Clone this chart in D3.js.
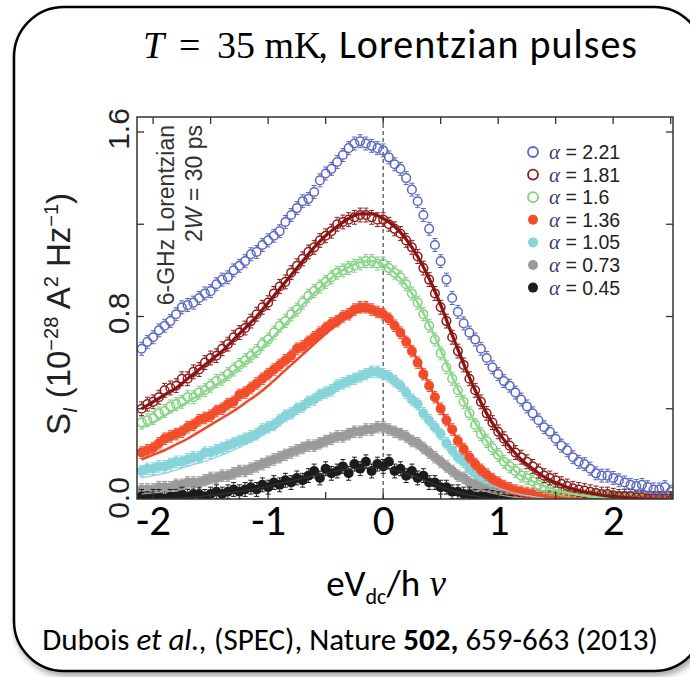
<!DOCTYPE html>
<html>
<head>
<meta charset="utf-8">
<script src="https://d3js.org/d3.v7.min.js"></script>
<style>
body { margin: 0; background: #fff; }
svg { display: block; }
</style>
</head>
<body>
<div id="chart"></div>
<script>
// data (S_I in 1e-28 A^2/Hz vs eVdc/h nu)

var alphaLabels = ["2.21", "1.81", "1.6", "1.36", "1.05", "0.73", "0.45"];

var xData = [-2.1,-2.05,-2,-1.95,-1.9,-1.85,-1.8,-1.75,-1.7,-1.65,
    -1.6,-1.55,-1.5,-1.45,-1.4,-1.35,-1.3,-1.25,-1.2,-1.15,
    -1.1,-1.05,-1,-0.95,-0.9,-0.85,-0.8,-0.75,-0.7,-0.65,
    -0.6,-0.55,-0.5,-0.45,-0.4,-0.35,-0.3,-0.25,-0.2,-0.15,
    -0.1,-0.05,0,0.05,0.1,0.15,0.2,0.25,0.3,0.35,
    0.4,0.45,0.5,0.55,0.6,0.65,0.7,0.75,0.8,0.85,
    0.9,0.95,1,1.05,1.1,1.15,1.2,1.25,1.3,1.35,
    1.4,1.45,1.5,1.55,1.6,1.65,1.7,1.75,1.8,1.85,
    1.9,1.95,2,2.05,2.1,2.15,2.2,2.25,2.3,2.35,
    2.4,2.45,2.5];

var s221 = [0.66,0.69,0.71,0.74,0.76,0.78,0.81,0.84,0.85,0.86,
    0.88,0.90,0.91,0.94,0.96,0.97,1.00,1.02,1.04,1.07,
    1.08,1.11,1.13,1.15,1.17,1.21,1.24,1.27,1.30,1.31,
    1.34,1.39,1.42,1.44,1.47,1.50,1.53,1.55,1.56,1.55,
    1.54,1.53,1.52,1.49,1.46,1.44,1.40,1.35,1.30,1.24,
    1.18,1.11,1.04,0.96,0.88,0.82,0.77,0.73,0.70,0.66,
    0.62,0.58,0.55,0.52,0.50,0.47,0.44,0.41,0.38,0.35,
    0.32,0.30,0.27,0.24,0.22,0.19,0.17,0.16,0.14,0.12,
    0.11,0.11,0.10,0.09,0.08,0.07,0.065,0.07,0.06,0.05,
    0.05,0.06,0.04];

var s181 = [0.40,0.42,0.43,0.45,0.48,0.49,0.50,0.53,0.53,0.56,
    0.57,0.60,0.62,0.63,0.66,0.68,0.71,0.73,0.75,0.78,
    0.81,0.84,0.86,0.90,0.93,0.95,0.99,1.02,1.05,1.08,
    1.10,1.13,1.15,1.17,1.20,1.21,1.22,1.23,1.24,1.24,
    1.23,1.22,1.22,1.20,1.18,1.16,1.13,1.10,1.06,1.01,
    0.96,0.90,0.84,0.78,0.71,0.65,0.59,0.53,0.48,0.43,
    0.38,0.34,0.30,0.27,0.24,0.21,0.19,0.17,0.15,0.13,
    0.11,0.10,0.09,0.075,0.065,0.055,0.05,0.045,0.04,0.035,
    0.03,0.03,0.025,0.02,0.02,0.02,0.015,0.015,0.01,0.01,
    0.01,0.01,0.01];

var s160 = [0.34,0.35,0.36,0.38,0.39,0.41,0.42,0.43,0.45,0.45,
    0.47,0.48,0.50,0.52,0.53,0.55,0.57,0.59,0.61,0.63,
    0.65,0.68,0.70,0.73,0.76,0.78,0.81,0.83,0.86,0.89,
    0.91,0.93,0.95,0.97,0.99,1.00,1.01,1.02,1.03,1.04,
    1.04,1.03,1.03,1.01,0.99,0.97,0.94,0.90,0.86,0.81,
    0.76,0.70,0.64,0.58,0.53,0.48,0.43,0.38,0.33,0.29,
    0.26,0.23,0.20,0.17,0.15,0.13,0.11,0.10,0.085,0.07,
    0.06,0.05,0.045,0.04,0.035,0.03,0.025,0.02,0.02,0.02,
    0.015,0.015,0.01,0.01,0.01,0.01,0.01,0.01,0.01,0.01,
    0.01,0.01,0.01];

var s136 = [0.21,0.22,0.23,0.25,0.27,0.28,0.29,0.30,0.32,0.33,
    0.35,0.36,0.37,0.39,0.40,0.42,0.43,0.46,0.47,0.49,
    0.51,0.53,0.55,0.57,0.59,0.61,0.63,0.66,0.67,0.69,
    0.71,0.73,0.75,0.77,0.78,0.80,0.81,0.83,0.84,0.84,
    0.83,0.82,0.81,0.79,0.76,0.73,0.69,0.65,0.60,0.55,
    0.50,0.45,0.40,0.35,0.31,0.26,0.225,0.19,0.16,0.135,
    0.115,0.095,0.08,0.065,0.055,0.045,0.04,0.035,0.03,0.025,
    0.02,0.02,0.02,0.015,0.015,0.015,0.01,0.01,0.01,0.01,
    0.01,0.01,0.01,0.01,0.01,0.01,0.01,0.01,0.01,0.01,
    0.01,0.01,0.01];

var s105 = [0.13,0.14,0.14,0.15,0.15,0.16,0.17,0.17,0.18,0.19,
    0.19,0.21,0.21,0.22,0.23,0.24,0.25,0.26,0.27,0.28,
    0.29,0.31,0.32,0.33,0.35,0.37,0.38,0.40,0.41,0.43,
    0.44,0.46,0.47,0.48,0.50,0.51,0.52,0.53,0.54,0.55,
    0.56,0.56,0.55,0.54,0.52,0.50,0.47,0.44,0.42,0.38,
    0.35,0.32,0.29,0.25,0.22,0.19,0.17,0.14,0.12,0.10,
    0.085,0.07,0.055,0.045,0.04,0.03,0.025,0.02,0.02,0.015,
    0.015,0.01,0.01,0.01,0.01,0.01,0.01,0.01,0.01,0.01,
    0.01,0.01,0.01,0.01,0.01,0.01,0.01,0.01,0.01,0.01,
    0.01,0.01,0.01];

var s073 = [0.05,0.05,0.05,0.06,0.06,0.06,0.07,0.07,0.08,0.08,
    0.08,0.09,0.10,0.10,0.11,0.11,0.12,0.13,0.13,0.14,
    0.15,0.16,0.17,0.18,0.19,0.20,0.21,0.22,0.23,0.24,
    0.24,0.25,0.26,0.27,0.28,0.28,0.29,0.30,0.30,0.31,
    0.31,0.32,0.32,0.31,0.30,0.29,0.28,0.26,0.25,0.23,
    0.21,0.19,0.17,0.15,0.13,0.11,0.10,0.08,0.07,0.055,
    0.045,0.04,0.03,0.025,0.02,0.015,0.015,0.01,0.01,0.01,
    0.01,0.01,0.01,0.01,0.01,0.01,0.01,0.01,0.01,0.01,
    0.01,0.01,0.01,0.01,0.01,0.01,0.01,0.01,0.01,0.01,
    0.01,0.01,0.01];

var s045 = [0.02,0.01,0.02,0.02,0.01,0.02,0.02,0.03,0.02,0.03,
    0.03,0.02,0.03,0.04,0.03,0.04,0.05,0.04,0.05,0.06,
    0.05,0.07,0.06,0.08,0.07,0.09,0.08,0.10,0.09,0.11,
    0.13,0.10,0.14,0.12,0.13,0.15,0.12,0.16,0.14,0.17,
    0.13,0.16,0.15,0.17,0.13,0.14,0.11,0.13,0.10,0.11,
    0.08,0.08,0.06,0.06,0.04,0.04,0.03,0.03,0.02,0.02,
    0.02,0.015,0.01,0.01,0.01,0.01,0.01,0.01,0.01,0.01,
    0.01,0.01,0.01,0.01,0.01,0.01,0.01,0.01,0.01,0.01,
    0.01,0.01,0.01,0.01,0.01,0.01,0.01,0.01,0.01,0.01,
    0.01,0.01,0.01];

// fitted curves (0.1 step)
var xFit = [-2.1,-2,-1.9,-1.8,-1.7,-1.6,-1.5,-1.4,-1.3,-1.2,
    -1.1,-1,-0.9,-0.8,-0.7,-0.6,-0.5,-0.4,-0.3,-0.2,
    -0.1,0,0.1,0.2,0.3,0.4,0.5,0.6,0.7,0.8,
    0.9,1,1.1,1.2,1.3,1.4,1.5,1.6,1.7,1.8,
    1.9,2,2.1,2.2,2.3,2.4,2.5];

var fit181 = [0.40,0.43,0.46,0.49,0.53,0.57,0.61,0.65,0.70,0.75,
    0.80,0.86,0.92,0.98,1.04,1.10,1.15,1.19,1.225,1.245,
    1.245,1.225,1.19,1.135,1.06,0.965,0.85,0.72,0.595,0.48,
    0.38,0.30,0.235,0.18,0.14,0.105,0.08,0.06,0.045,0.035,
    0.025,0.02,0.015,0.01,0.008,0.006,0.005];

var fit160 = [0.32,0.34,0.37,0.40,0.43,0.46,0.49,0.52,0.56,0.60,
    0.645,0.69,0.74,0.795,0.85,0.90,0.945,0.985,1.015,1.035,
    1.04,1.025,0.99,0.935,0.86,0.765,0.655,0.54,0.435,0.34,
    0.26,0.20,0.15,0.11,0.085,0.065,0.048,0.036,0.027,0.02,
    0.015,0.011,0.008,0.006,0.005,0.004,0.003];

var fit136 = [0.18,0.20,0.22,0.245,0.27,0.30,0.33,0.36,0.39,0.425,
    0.46,0.50,0.545,0.59,0.635,0.68,0.725,0.765,0.80,0.822,
    0.825,0.81,0.77,0.70,0.61,0.505,0.40,0.305,0.225,0.16,
    0.115,0.08,0.057,0.04,0.029,0.021,0.015,0.011,0.008,0.006,
    0.005,0.004,0.003,0.003,0.002,0.002,0.002];

var fit105 = [0.10,0.11,0.12,0.135,0.15,0.165,0.18,0.20,0.22,0.245,
    0.27,0.30,0.33,0.365,0.40,0.435,0.47,0.50,0.525,0.545,
    0.55,0.54,0.51,0.465,0.405,0.34,0.275,0.21,0.16,0.115,
    0.08,0.057,0.04,0.028,0.02,0.014,0.01,0.007,0.005,0.004,
    0.003,0.003,0.002,0.002,0.002,0.001,0.001];

var fit073 = [0.03,0.035,0.04,0.045,0.055,0.065,0.075,0.09,0.10,0.12,
    0.135,0.155,0.175,0.195,0.215,0.235,0.255,0.275,0.29,0.305,
    0.31,0.305,0.29,0.265,0.23,0.19,0.15,0.115,0.085,0.06,
    0.04,0.028,0.019,0.013,0.009,0.006,0.004,0.003,0.002,0.002,
    0.001,0.001,0.001,0.001,0.001,0.001,0.001];

var fit045 = [0.005,0.007,0.009,0.012,0.015,0.019,0.024,0.03,0.037,0.045,
    0.054,0.064,0.075,0.087,0.099,0.11,0.12,0.13,0.138,0.143,
    0.145,0.142,0.134,0.12,0.102,0.082,0.062,0.045,0.031,0.021,
    0.014,0.009,0.006,0.004,0.003,0.002,0.001,0.001,0.001,0.001,
    0.001,0.001,0.001,0.001,0.001,0.001,0.001];

var errHalf = [0.028, 0.03, 0.028, 0.025, 0.025, 0.025, 0.03];

var xTicks = [-2, -1, 0, 1, 2];
var xFrameTicks = [-2, -1.5, -1, -0.5, 0, 0.5, 1, 1.5, 2, 2.5];
var yTicks = [0, 0.8, 1.6];
var yFrameTicks = [0.4, 0.8, 1.2, 1.6];
var yTickLabels = ["0.0", "0.8", "1.6"];

// styles
var colors = ["#5b68c0", "#8c1c1c", "#7fcf7f", "#f24e2c", "#86d4d9", "#9a9a9a", "#1c1c1c"];
var openMarker = [true, true, true, false, false, false, false];
var fitColors = ["#8a1414", "#8ed88e", "#f0482a", "#86d4d9", "#a0a0a0", "#333333"];
var fitWidths = [3.2, 2.5, 2.5, 1.2, 1.2, 1.2];

var svgWidth = 690;
var svgHeight = 677;
var margin = { top: 117, left: 137 };
var width = 536;
var height = 382;
var radius = 5;

var seriesData = [s221, s181, s160, s136, s105, s073, s045];
var fitData = [fit181, fit160, fit136, fit105, fit073, fit045];

var svg = d3.select("#chart")
    .append("svg")
    .attr("width", svgWidth)
    .attr("height", svgHeight);

var defs = svg.append("defs");
var shadow = defs.append("filter")
    .attr("id", "shadow")
    .attr("x", "-5%").attr("y", "-5%")
    .attr("width", "115%").attr("height", "115%");
shadow.append("feDropShadow")
    .attr("dx", 2).attr("dy", 4)
    .attr("stdDeviation", 3)
    .attr("flood-color", "#000")
    .attr("flood-opacity", 0.35);

defs.append("clipPath").attr("id", "plotclip")
    .append("rect")
    .attr("x", 0).attr("y", 0)
    .attr("width", width).attr("height", height);

// rounded slide frame
svg.append("rect")
    .attr("x", 14).attr("y", 7)
    .attr("width", 690).attr("height", 664)
    .attr("rx", 50)
    .attr("fill", "#fff")
    .attr("stroke", "#000")
    .attr("stroke-width", 2.5)
    .attr("filter", "url(#shadow)");

// title
var title = svg.append("text")
    .attr("y", 58)
    .attr("font-size", 38)
    .attr("fill", "#000")
    .attr("font-family", "'Liberation Serif', serif");
title.append("tspan")
    .attr("x", 143)
    .attr("font-style", "italic")
    .text("T");
title.append("tspan")
    .attr("x", 179)
    .text("=");
title.append("tspan")
    .attr("x", 217)
    .text("35 mK");

svg.append("text")
    .attr("x", 318).attr("y", 58)
    .attr("font-family", "Carlito, Lato, sans-serif")
    .attr("font-size", 40)
    .attr("textLength", 319)
    .attr("lengthAdjust", "spacing")
    .attr("fill", "#000")
    .text(", Lorentzian pulses");

// scales
var xScale = d3.scaleLinear()
    .domain([-2.14, 2.52])
    .range([0, width]);

var yScale = d3.scaleLinear()
    .domain([0, 1.665])
    .range([384, 0]);

var chartGroup = svg.append("g")
    .attr("transform", `translate(${margin.left}, ${margin.top})`);

// zero line
chartGroup.append("line")
    .attr("x1", xScale(0)).attr("x2", xScale(0))
    .attr("y1", 0).attr("y2", height)
    .attr("stroke", "#444")
    .attr("stroke-width", 1.2)
    .attr("stroke-dasharray", "4,3");

var plot = chartGroup.append("g").attr("clip-path", "url(#plotclip)");

// points, low curves first so the blue set ends on top
var drawOrder = [4, 5, 6, 3, 2, 1, 0];
drawOrder.forEach(function(k) {
    var pts = xData.map(function(xv, i) { return { x: xv, y: seriesData[k][i] }; });
    var g = plot.append("g");

    // error bars drawn only outside the marker
    g.selectAll(".err")
        .data(pts)
        .enter()
        .append("path")
        .attr("d", function(d) {
            var cx = xScale(d.x);
            var cy = yScale(d.y);
            var y1 = yScale(d.y + errHalf[k]);
            var y2 = yScale(d.y - errHalf[k]);
            return "M" + (cx - 2.5) + "," + y1 + "H" + (cx + 2.5) +
                "M" + cx + "," + y1 + "V" + (cy - radius) +
                "M" + cx + "," + (cy + radius) + "V" + y2 +
                "M" + (cx - 2.5) + "," + y2 + "H" + (cx + 2.5);
        })
        .attr("stroke", colors[k])
        .attr("stroke-width", 1)
        .attr("fill", "none");

    g.selectAll("circle")
        .data(pts)
        .enter()
        .append("circle")
        .attr("cx", function(d) { return xScale(d.x); })
        .attr("cy", function(d) { return yScale(d.y); })
        .attr("r", openMarker[k] ? radius - 0.7 : radius)
        .attr("fill", openMarker[k] ? "none" : colors[k])
        .attr("stroke", colors[k])
        .attr("stroke-width", openMarker[k] ? 1.5 : 0);
});

// fitted lines
var fitLine = d3.line()
    .x(function(d) { return xScale(d[0]); })
    .y(function(d) { return yScale(d[1]); })
    .curve(d3.curveMonotoneX);

[5, 4, 3, 2, 1, 0].forEach(function(j) {
    plot.append("path")
        .datum(xFit.map(function(xv, i) { return [xv, fitData[j][i]]; }))
        .attr("d", fitLine)
        .attr("fill", "none")
        .attr("stroke", fitColors[j])
        .attr("stroke-width", fitWidths[j]);
});

// frame
chartGroup.append("rect")
    .attr("width", width).attr("height", height)
    .attr("fill", "none")
    .attr("stroke", "#333")
    .attr("stroke-width", 1.5);

// inward ticks on all four sides
var tickLen = 7;
var innerTicks = chartGroup.append("g").attr("stroke", "#333").attr("stroke-width", 1.3);
xFrameTicks.forEach(function(t) {
    innerTicks.append("line").attr("x1", xScale(t)).attr("x2", xScale(t)).attr("y1", 0).attr("y2", tickLen);
    innerTicks.append("line").attr("x1", xScale(t)).attr("x2", xScale(t)).attr("y1", height).attr("y2", height - tickLen);
});
yFrameTicks.forEach(function(t) {
    innerTicks.append("line").attr("x1", 0).attr("x2", tickLen).attr("y1", yScale(t)).attr("y2", yScale(t));
    innerTicks.append("line").attr("x1", width).attr("x2", width - tickLen).attr("y1", yScale(t)).attr("y2", yScale(t));
});

// x tick labels
var xAxis = d3.axisBottom(xScale)
    .tickValues(xTicks)
    .tickSize(0)
    .tickPadding(5)
    .tickFormat(function(d) { return String(d); });

var xAxisG = chartGroup.append("g")
    .attr("transform", `translate(0, ${height})`)
    .call(xAxis);
xAxisG.select(".domain").remove();
xAxisG.selectAll("text")
    .attr("font-family", "Carlito, Lato, sans-serif")
    .attr("font-size", 43)
    .attr("fill", "#000");

// y tick labels, rotated
yTicks.forEach(function(t, i) {
    chartGroup.append("text")
        .attr("transform", "translate(-8," + (yScale(t) - 3) + ") rotate(-90)")
        .attr("text-anchor", "middle")
        .attr("font-family", "'Liberation Sans', Arial, sans-serif")
        .attr("font-size", 30)
        .attr("fill", "#222")
        .text(yTickLabels[i]);
});

// y axis title
var yTitle = svg.append("text")
    .attr("transform", "translate(70, 314) rotate(-90)")
    .attr("text-anchor", "middle")
    .attr("font-family", "'Liberation Sans', Arial, sans-serif")
    .attr("font-size", 33)
    .attr("fill", "#222");
yTitle.append("tspan").text("S");
yTitle.append("tspan").attr("font-size", 20).attr("font-style", "italic").attr("dy", 7).text("I");
yTitle.append("tspan").attr("dy", -7).text(" (10");
yTitle.append("tspan").attr("font-size", 20).attr("dy", -12).text("\u221228");
yTitle.append("tspan").attr("dy", 12).text(" A");
yTitle.append("tspan").attr("font-size", 20).attr("dy", -12).text("2");
yTitle.append("tspan").attr("dy", 12).text(" Hz");
yTitle.append("tspan").attr("font-size", 20).attr("dy", -12).text("\u22121");
yTitle.append("tspan").attr("dy", 12).text(")");

// x axis title
var xTitle = svg.append("text")
    .attr("x", 386).attr("y", 596)
    .attr("text-anchor", "middle")
    .attr("font-family", "Carlito, Lato, sans-serif")
    .attr("font-size", 37)
    .attr("fill", "#000");
xTitle.append("tspan").text("eV");
xTitle.append("tspan").attr("font-size", 22).attr("dy", 8).text("dc");
xTitle.append("tspan").attr("dy", -8).text("/h");
xTitle.append("tspan").attr("font-family", "'Liberation Serif', serif").attr("font-style", "italic").text(" \u03bd");

// rotated annotation inside the plot
chartGroup.append("text")
    .attr("transform", "translate(37, 8) rotate(-90)")
    .attr("text-anchor", "end")
    .attr("font-family", "'Liberation Sans', Arial, sans-serif")
    .attr("font-size", 23)
    .attr("fill", "#333")
    .text("6-GHz Lorentzian");
var ann2 = chartGroup.append("text")
    .attr("transform", "translate(65, 8) rotate(-90)")
    .attr("text-anchor", "end")
    .attr("font-family", "'Liberation Sans', Arial, sans-serif")
    .attr("font-size", 23)
    .attr("fill", "#333");
ann2.append("tspan").text("2");
ann2.append("tspan").attr("font-style", "italic").text("W");
ann2.append("tspan").text(" = 30 ps");

// legend
var legend = svg.append("g").attr("transform", "translate(533, 152)");
alphaLabels.forEach(function(lab, i) {
    var row = legend.append("g").attr("transform", "translate(0," + (i * 22.6) + ")");
    row.append("circle")
        .attr("r", 5)
        .attr("fill", openMarker[i] ? "#fff" : colors[i])
        .attr("stroke", colors[i])
        .attr("stroke-width", openMarker[i] ? 1.8 : 0);
    var t = row.append("text")
        .attr("x", 16).attr("y", 7)
        .attr("font-size", 19.5)
        .attr("fill", "#222");
    t.append("tspan")
        .attr("font-family", "'Liberation Serif', serif")
        .attr("font-style", "italic")
        .attr("font-size", 21)
        .attr("fill", "#3a4170")
        .text("\u03b1");
    t.append("tspan")
        .attr("font-family", "'Liberation Sans', Arial, sans-serif")
        .text(" = " + lab);
});

// citation
var cite = svg.append("text")
    .attr("x", 350).attr("y", 650)
    .attr("text-anchor", "middle")
    .attr("font-family", "Carlito, Lato, sans-serif")
    .attr("font-size", 31)
    .attr("fill", "#000");
cite.append("tspan").text("Dubois ");
cite.append("tspan").attr("font-style", "italic").text("et al.,");
cite.append("tspan").text(" (SPEC), Nature ");
cite.append("tspan").attr("font-weight", "bold").text("502,");
cite.append("tspan").text(" 659-663 (2013)");
</script>
</body>
</html>
